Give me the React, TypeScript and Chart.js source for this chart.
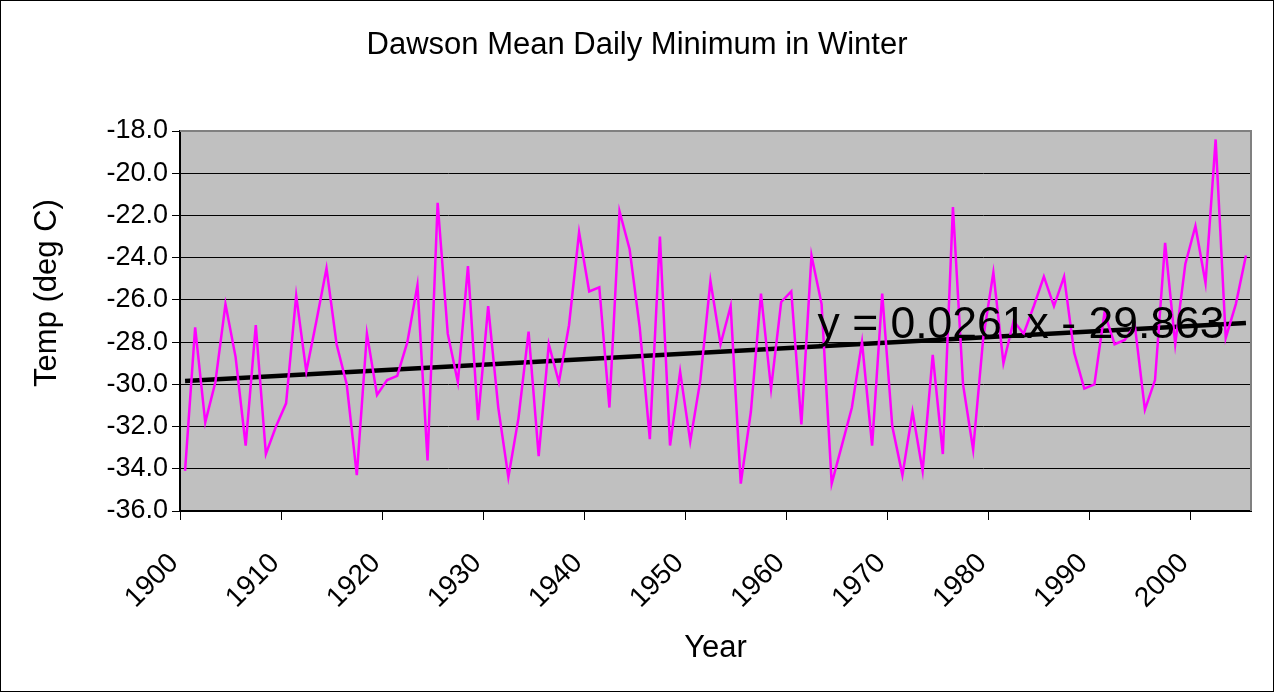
import React, { useEffect, useRef } from "react";
import { Chart, registerables } from "chart.js";

Chart.register(...registerables);

const FIRST_YEAR = 1900;
const xTickLabels = ["1900", "1910", "1920", "1930", "1940", "1950", "1960", "1970", "1980", "1990", "2000"];
const yTickValues = [-36, -34, -32, -30, -28, -26, -24, -22, -20, -18];

const years = [
  1900, 1901, 1902, 1903, 1904, 1905, 1906, 1907, 1908, 1909,
  1910, 1911, 1912, 1913, 1914, 1915, 1916, 1917, 1918, 1919,
  1920, 1921, 1922, 1923, 1924, 1925, 1926, 1927, 1928, 1929,
  1930, 1931, 1932, 1933, 1934, 1935, 1936, 1937, 1938, 1939,
  1940, 1941, 1942, 1943, 1944, 1945, 1946, 1947, 1948, 1949,
  1950, 1951, 1952, 1953, 1954, 1955, 1956, 1957, 1958, 1959,
  1960, 1961, 1962, 1963, 1964, 1965, 1966, 1967, 1968, 1969,
  1970, 1971, 1972, 1973, 1974, 1975, 1976, 1977, 1978, 1979,
  1980, 1981, 1982, 1983, 1984, 1985, 1986, 1987, 1988, 1989,
  1990, 1991, 1992, 1993, 1994, 1995, 1996, 1997, 1998, 1999,
  2000, 2001, 2002, 2003, 2004, 2005,
];

const minTemps = [
  -34.1, -27.3, -31.8, -29.9, -26.2, -28.7, -32.9, -27.2, -33.3, -32.0,
  -30.9, -25.8, -29.4, -27.0, -24.5, -28.1, -30.0, -34.3, -27.6, -30.5,
  -29.8, -29.6, -28.0, -25.3, -33.6, -21.4, -27.6, -29.9, -24.4, -31.7,
  -26.3, -31.1, -34.4, -31.6, -27.5, -33.4, -28.1, -29.9, -27.2, -22.8,
  -25.6, -25.4, -31.1, -21.8, -23.6, -27.3, -32.6, -23.0, -32.9, -29.4,
  -32.7, -29.8, -25.1, -28.1, -26.3, -34.7, -31.3, -25.7, -30.2, -26.1,
  -25.6, -31.9, -23.9, -26.2, -34.7, -32.9, -31.1, -28.0, -32.9, -25.7,
  -32.0, -34.3, -31.3, -34.1, -28.6, -33.3, -21.6, -30.0, -33.1, -27.8,
  -24.7, -29.0, -27.0, -27.6, -26.3, -24.9, -26.3, -24.9, -28.5, -30.2,
  -30.0, -26.6, -28.1, -27.9, -27.2, -31.2, -29.8, -23.3, -28.1, -24.3,
  -22.5, -25.2, -18.4, -27.8, -26.2, -23.9,
];

// Excel linear trendline as printed on the chart (x = 1..N)
const trendSlope = 0.0261;
const trendIntercept = -29.863;

const FONT = "'Liberation Sans', Arial, sans-serif";

export default function App() {
  const canvasRef = useRef<HTMLCanvasElement | null>(null);

  useEffect(() => {
    const canvas = canvasRef.current;
    if (!canvas) return;

    const seriesData = minTemps.map((v, i) => ({ x: years[i] - FIRST_YEAR, y: v }));
    const n = minTemps.length;
    const trendData = [
      { x: 0, y: trendSlope * 1 + trendIntercept },
      { x: n - 1, y: trendSlope * n + trendIntercept },
    ];
    const equation = `y = ${trendSlope}x - ${Math.abs(trendIntercept)}`;

    const decor = {
      id: "decor",
      beforeDraw(chart: any) {
        const { ctx, chartArea: a } = chart;
        ctx.save();
        ctx.fillStyle = "#ffffff";
        ctx.fillRect(0, 0, chart.width, chart.height);
        ctx.fillStyle = "#C0C0C0";
        ctx.fillRect(a.left, a.top, a.right - a.left, a.bottom - a.top);
        ctx.restore();
      },
      afterDatasetsDraw(chart: any) {
        const { ctx } = chart;
        const xs = chart.scales.x;
        const ys = chart.scales.y;
        ctx.save();
        ctx.fillStyle = "#000";
        ctx.font = `44.5px ${FONT}`;
        ctx.textAlign = "left";
        ctx.textBaseline = "alphabetic";
        ctx.fillText(equation, xs.getPixelForValue(62.6), ys.getPixelForValue(-27.8));
        ctx.restore();
      },
      afterDraw(chart: any) {
        const { ctx, chartArea: a } = chart;
        ctx.save();
        // plot area top/right border
        ctx.strokeStyle = "#808080";
        ctx.lineWidth = 2;
        ctx.beginPath();
        ctx.moveTo(a.left, a.top);
        ctx.lineTo(a.right, a.top);
        ctx.lineTo(a.right, a.bottom);
        ctx.stroke();
        // outer frame
        ctx.strokeStyle = "#000";
        ctx.lineWidth = 1;
        ctx.strokeRect(0.5, 0.5, chart.width - 1, chart.height - 1);
        // titles
        ctx.fillStyle = "#000";
        ctx.textAlign = "center";
        ctx.textBaseline = "middle";
        ctx.font = `31px ${FONT}`;
        ctx.fillText("Dawson Mean Daily Minimum in Winter", chart.width / 2, 45);
        ctx.font = `31px ${FONT}`;
        ctx.fillText("Year", (a.left + a.right) / 2, 648);
        ctx.translate(47, 293);
        ctx.rotate(-Math.PI / 2);
        ctx.fillText("Temp (deg C)", 0, 0);
        ctx.restore();
      },
    };

    const chart = new Chart(canvas, {
      type: "line",
      data: {
        datasets: [
          {
            label: "Mean daily minimum",
            data: seriesData,
            borderColor: "#FF00FF",
            borderWidth: 2.5,
            pointRadius: 0,
            tension: 0,
            fill: false,
          },
          {
            label: "Linear trend",
            data: trendData,
            borderColor: "#000000",
            borderWidth: 4.5,
            pointRadius: 0,
            tension: 0,
            fill: false,
          },
        ],
      },
      options: {
        animation: false,
        responsive: false,
        devicePixelRatio: 1,
        layout: { padding: { top: 131, left: 0, right: 23, bottom: 0 } },
        plugins: {
          legend: { display: false },
          title: { display: false },
          tooltip: { enabled: false },
        },
        scales: {
          x: {
            type: "linear",
            min: -0.5,
            max: n - 0.5,
            afterFit(scale: any) {
              scale.height = 181;
            },
            afterBuildTicks(scale: any) {
              scale.ticks = xTickLabels.map((l) => ({ value: Number(l) - FIRST_YEAR - 0.5 }));
            },
            ticks: {
              autoSkip: false,
              minRotation: 45,
              maxRotation: 45,
              padding: 27,
              labelOffset: -6,
              color: "#000",
              font: { family: FONT, size: 28 },
              callback: (value: any) => String(Math.round(Number(value) + 0.5) + FIRST_YEAR),
            },
            grid: {
              drawOnChartArea: false,
              drawTicks: true,
              tickLength: 9,
              color: "#000",
              lineWidth: 1,
            },
            border: { display: true, color: "#000", width: 2 },
          },
          y: {
            type: "linear",
            min: yTickValues[0],
            max: yTickValues[yTickValues.length - 1],
            afterFit(scale: any) {
              scale.width = 180;
            },
            afterBuildTicks(scale: any) {
              scale.ticks = yTickValues.map((v) => ({ value: v }));
            },
            ticks: {
              padding: 4,
              color: "#000",
              font: { family: FONT, size: 27 },
              callback: (value: any) => Number(value).toFixed(1),
            },
            grid: {
              color: "#000",
              lineWidth: 1,
              tickLength: 8,
              drawTicks: true,
            },
            border: { display: true, color: "#000", width: 2 },
          },
        },
      },
      plugins: [decor],
    });

    return () => chart.destroy();
  }, []);

  return (
    <div style={{ position: "absolute", left: 0, top: 0, width: 1274, height: 692, background: "#fff" }}>
      <canvas ref={canvasRef} width={1274} height={692} style={{ display: "block", width: 1274, height: 692 }} />
    </div>
  );
}
